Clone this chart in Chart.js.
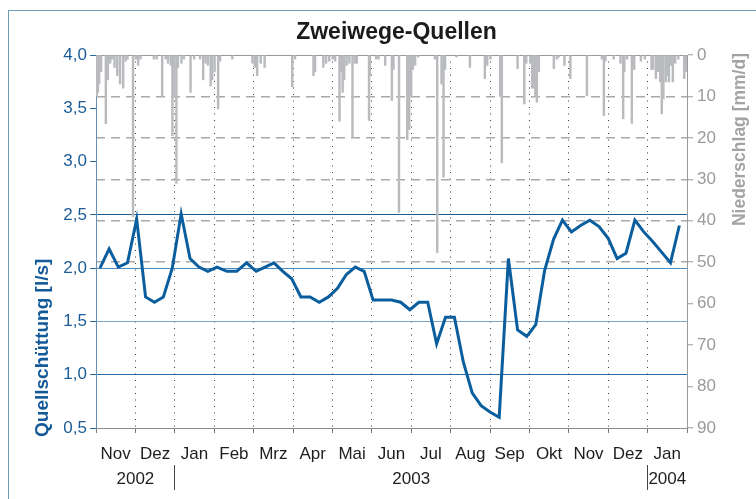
<!DOCTYPE html>
<html><head><meta charset="utf-8">
<script src="https://cdn.jsdelivr.net/npm/chart.js@4.4.1/dist/chart.umd.min.js"></script>
<style>
html,body{margin:0;padding:0;background:#fff;}
#wrap{position:relative;width:756px;height:499px;overflow:hidden;background:#fff;}
#frame{position:absolute;left:8px;top:10px;width:900px;height:700px;border-left:1px solid #6f9db4;border-top:1px solid #6f9db4;}
canvas{position:absolute;left:0;top:0;}
</style></head><body>
<div id="wrap"><div id="frame"></div><canvas id="c" width="756" height="499"></canvas></div>
<script>
// ---- data ----
const chartTitle = 'Zweiwege-Quellen';
const leftTitle = 'Quellschüttung [l/s]';
const rightTitle = 'Niederschlag [mm/d]';
const monthLabels = ['Nov','Dez','Jan','Feb','Mrz','Apr','Mai','Jun','Jul','Aug','Sep','Okt','Nov','Dez','Jan'];
const yearLabels = ['2002','2003','2004'];
const yearLabelPos = [1, 8, 14.5];       // month positions (0 = 1 Nov 2002)
const yearSeparators = [2, 14];
const flowTicks = [0.5,1.0,1.5,2.0,2.5,3.0,3.5,4.0];
const rainTicks = [0,10,20,30,40,50,60,70,80,90];

// weekly spring discharge [l/s], first sample 4 Nov 2002
const flowStart = [2002, 10, 4];
const flowStepDays = 7;
const flowValues = [2.00,2.18,2.01,2.05,2.46,1.73,1.68,1.73,2.00,2.51,
  2.09,2.01,1.97,2.01,1.97,1.97,2.05,1.97,2.01,2.05,
  1.97,1.90,1.73,1.73,1.68,1.73,1.81,1.94,2.01,1.97,
  1.70,1.70,1.70,1.68,1.61,1.68,1.68,1.29,1.54,1.54,
  1.12,0.83,0.71,0.65,0.60,2.09,1.42,1.36,1.47,1.98,
  2.27,2.45,2.34,2.40,2.45,2.39,2.28,2.09,2.14,2.45,
  2.34,2.25,2.15,2.05,2.40];

// daily precipitation [mm/d] (position in months since 1 Nov 2002)
const rainPos = [0.02,0.05,0.08,0.13,0.25,0.30,0.36,0.41,0.47,0.54,0.61,0.69,0.75,0.80,0.94,
  1.01,1.07,1.13,1.47,1.54,1.68,1.77,1.83,1.90,1.94,1.98,2.04,2.08,2.17,2.23,2.40,2.49,2.64,2.72,2.78,2.84,2.91,2.95,
  3.01,3.10,3.15,3.46,3.97,4.03,4.09,4.18,4.28,4.98,
  5.05,5.52,5.56,5.77,5.84,5.92,6.01,6.07,6.18,6.22,6.26,6.30,6.36,6.43,6.51,6.57,6.62,6.93,6.95,
  7.11,7.17,7.34,7.51,7.55,7.69,7.90,7.95,8.00,8.04,8.10,8.18,8.60,8.66,8.77,8.82,8.86,
  9.15,9.49,9.87,9.93,10.01,10.26,10.30,10.70,10.87,10.92,
  11.02,11.07,11.11,11.15,11.19,11.24,11.62,11.70,11.74,11.89,12.04,12.46,12.84,12.89,12.93,
  13.14,13.31,13.38,13.41,13.48,13.60,13.66,13.83,13.93,
  14.10,14.14,14.21,14.27,14.32,14.36,14.40,14.46,14.50,14.54,14.59,14.64,14.70,14.78,14.93,14.97];
const rainMm = [10,9,7,4,16.6,6,2,1,3,5,7,8,1.5,1,39,
  1,2.5,1,1,1,10,1,2,2.5,19.5,10,31,3,2,1,9,1,1,6,2,2.5,7.5,6,
  4,13,1.5,1,2,3,5,2,3,7.7,
  1,5,4,3,2,1.5,1,1.5,16,4,9,6,2.5,2,19.8,2,2,15.8,5,
  1,1,2.5,11,3.5,38,20.4,18,10,3.5,2.5,0.5,1,47.7,7,29.5,3.5,
  0.5,3,5.7,2.5,1,10,26,3.3,11.8,2,
  2,8,8,10,11.4,4,3.3,1,0.5,2.5,5.7,9.8,1,14.6,1.5,
  1,2,15.4,4,1,16.5,3.5,1.5,1,
  3.5,3.5,5.7,4,6.5,14.2,10.6,6.5,5,6.5,2.5,6.5,2,1,5.7,4];

// ---- helpers ----
function monthPos(d){
  const m = (d.getFullYear()-2002)*12 + d.getMonth() - 10;
  const dim = new Date(d.getFullYear(), d.getMonth()+1, 0).getDate();
  return m + (d.getDate()-1)/dim;
}
const flowData = flowValues.map((v,i)=>{
  const d = new Date(flowStart[0], flowStart[1], flowStart[2] + i*flowStepDays);
  return {x: monthPos(d), y: v};
});
const rainData = rainPos.map((p,i)=>({x:p, y:rainMm[i]}));

const F = "'Liberation Sans', Arial, sans-serif";
const T = 'rgba(0,0,0,0)';
const blueGrid = {'1.0':'#2a6ca6','1.5':'#7da4c4','2.0':'#4a8bc1','2.5':'#1d5d95','4.0':'#999999'};

const titles = {
  id:'titles',
  afterDraw(chart){
    const {ctx, chartArea} = chart;
    ctx.save();
    ctx.fillStyle = '#1b1b1b';
    ctx.font = 'bold 23px ' + F;
    ctx.textAlign = 'center'; ctx.textBaseline = 'middle';
    ctx.fillText(chartTitle, (chartArea.left+chartArea.right)/2 + 5, 33);
    ctx.restore();

    ctx.save();
    ctx.translate(43, chartArea.bottom + 9);
    ctx.rotate(-Math.PI/2);
    ctx.font = 'bold 19px ' + F; ctx.fillStyle = '#145a98';
    ctx.textAlign = 'left'; ctx.textBaseline = 'middle';
    ctx.fillText(leftTitle, 0, 0);
    ctx.restore();

    ctx.save();
    ctx.translate(740, chartArea.top - 2);
    ctx.rotate(-Math.PI/2);
    ctx.font = 'bold 17.5px ' + F; ctx.fillStyle = '#a3a3a3';
    ctx.textAlign = 'right'; ctx.textBaseline = 'middle';
    ctx.fillText(rightTitle, 0, 0);
    ctx.restore();
  }
};

new Chart(document.getElementById('c'), {
  type:'bar',
  data:{
    datasets:[
      {type:'line', data:flowData, xAxisID:'x', yAxisID:'y', borderColor:'#0b5e9d', borderWidth:3,
       pointRadius:0, tension:0, fill:false, order:0, borderJoinStyle:'miter'},
      {type:'bar', data:rainData, xAxisID:'x', yAxisID:'y2', backgroundColor:'#b9bbbe',
       barThickness:1.8, order:1, grouped:false}
    ]
  },
  options:{
    responsive:false, animation:false, devicePixelRatio:1,
    layout:{padding:{top:55,left:0,right:0,bottom:0}},
    plugins:{legend:{display:false}, title:{display:false}, tooltip:{enabled:false}},
    scales:{
      x:{type:'linear', position:'bottom', min:0, max:15, offset:false,
        afterBuildTicks:s=>{ s.ticks = []; monthLabels.forEach((m,i)=>{ s.ticks.push({value:i}); s.ticks.push({value:i+0.5}); }); s.ticks.push({value:monthLabels.length}); },
        afterFit:s=>{ s.height = 37; },
        ticks:{autoSkip:false, maxRotation:0, minRotation:0, color:'#1e1e1e', font:{family:F,size:17}, padding:11,
          callback:(v)=> Number.isInteger(v) ? '' : monthLabels[Math.floor(v)]},
        grid:{offset:false, color:c=> (c.tick && Number.isInteger(c.tick.value) && c.tick.value>0 && c.tick.value<15) ? '#3a3a3a' : T,
          tickColor:c=> (c.tick && Number.isInteger(c.tick.value)) ? '#777' : T, tickLength:5, lineWidth:1, tickWidth:1},
        border:{color:'#8c8c8c', width:1, dash:[1,5.5]}
      },
      xYear:{type:'linear', position:'bottom', min:0, max:15, offset:false,
        afterBuildTicks:s=>{ s.ticks = yearSeparators.concat(yearLabelPos).sort((a,b)=>a-b).map(v=>({value:v})); },
        afterFit:s=>{ s.height = 34; },
        ticks:{autoSkip:false, maxRotation:0, minRotation:0, color:'#1e1e1e', font:{family:F,size:17}, padding:-21,
          callback:(v)=>{ const k = yearLabelPos.indexOf(v); return k>=0 ? yearLabels[k] : ''; }},
        grid:{offset:false, drawOnChartArea:false, drawTicks:true, tickLength:25, color:T,
          tickColor:c=> (c.tick && yearSeparators.includes(c.tick.value)) ? '#444' : T, tickWidth:1},
        border:{display:false}
      },
      y:{type:'linear', position:'left', min:0.5, max:4.0,
        afterBuildTicks:s=>{ s.ticks = flowTicks.map(v=>({value:v})); },
        afterFit:s=>{ s.width = 96; },
        ticks:{color:'#1b5c96', font:{family:F,size:17}, padding:3,
          callback:v=> v.toFixed(1).replace('.',',')},
        grid:{color:c=> (c.tick && blueGrid[c.tick.value.toFixed(1)]) || T, tickColor:'#2d6aa0', tickLength:6, lineWidth:1, tickWidth:1},
        border:{color:'#6a8eae', width:1}
      },
      y2:{type:'linear', position:'right', min:0, max:90, reverse:true,
        afterBuildTicks:s=>{ s.ticks = rainTicks.map(v=>({value:v})); },
        afterFit:s=>{ s.width = 69; },
        ticks:{color:'#9a9a9a', font:{family:F,size:17}, padding:4},
        grid:{color:c=> (c.tick && c.tick.value>=10 && c.tick.value<=50) ? '#a9a9a9' : T,
          tickColor:'#9a9a9a', tickLength:6, lineWidth:1.5, tickWidth:1},
        border:{color:'#9a9a9a', width:1, dash:[9,6]}
      }
    }
  },
  plugins:[titles]
});
</script>
</body></html>
